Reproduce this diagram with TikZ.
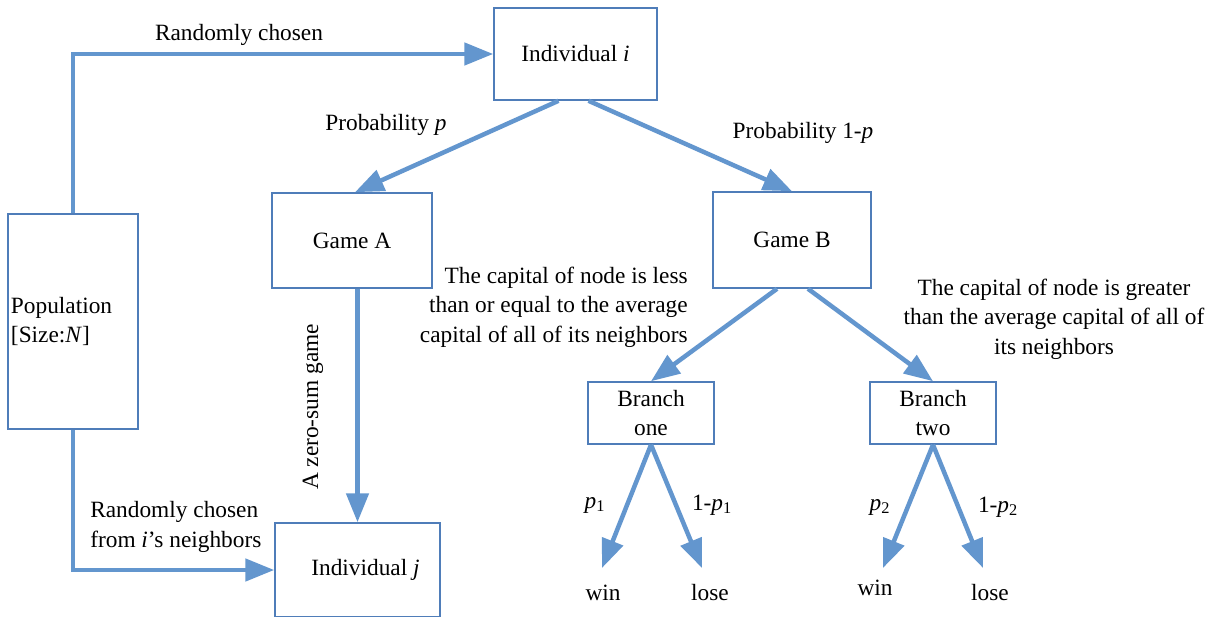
\documentclass[tikz,border=0pt]{standalone}
\usepackage{fontspec}
\setmainfont{Liberation Serif}
\usepackage{xcolor}
\definecolor{ARROWcolor}{HTML}{6396CE}
\definecolor{BOXcolor}{HTML}{4F7DB9}
\usepackage{tikz}
\usetikzlibrary{%
    calc,
    arrows.meta % 箭头
}

\begin{document}
\begin{tikzpicture}[x=0.025cm, y=-0.025cm,
        font=\fontsize{16.6pt}{21pt}\selectfont,
        box/.style={draw=BOXcolor, line width=1.1pt, inner sep=1pt},
        flow/.style={draw=ARROWcolor, line width=3.2pt, -{Triangle[length=0.72cm, width=0.55cm]}}]
    \useasboundingbox (0, 0) rectangle (1209, 617);
    \clip (0, 0) rectangle (1209, 617);

    % 方框
    \node (indi) [box, minimum width=4.075cm, minimum height=2.3cm] at (575.5, 54) {Individual \textit{i}\hspace{0.275cm}};
    \node (pop) [box, minimum width=3.25cm, minimum height=5.375cm, text width=3.1cm, align=left] at (73, 321.5) {Population\\\relax [Size:\textit{N}]};
    \node (gameA) [box, minimum width=4cm, minimum height=2.375cm] at (352, 240.5) {Game A};
    \node (indj) [box, minimum width=4.125cm, minimum height=2.35cm] at (357.5, 570) {\hspace{0.4cm}Individual \textit{j}};
    \node (gameB) [box, minimum width=3.95cm, minimum height=2.4cm] at (792, 240) {Game B};
    \node (branchone) [box, minimum width=3.15cm, minimum height=1.55cm, align=center] at (651, 413) {Branch\\one};
    \node (branchtwo) [box, minimum width=3.15cm, minimum height=1.55cm, align=center] at (933, 413) {Branch\\two};

    % 结果
    \node (winone) at (603, 593) {win};
    \node (loseone) at (710, 593) {lose};
    \node (wintwo) at (875, 588) {win};
    \node (losetwo) at (990, 593) {lose};
    \coordinate (winonetip) at (602, 568);
    \coordinate (loseonetip) at (702, 568);
    \coordinate (wintwotip) at (883, 568);
    \coordinate (losetwotip) at (983, 568);

    % 箭头
    \draw [flow] (pop.north) |- (indi.west);
    \draw [flow] (pop.south) |- (indj.west);
    \draw [flow] ($ (indi.south) + (-17, 0) $) -- ($ (gameA.north) + (3, 0) $);
    \draw [flow] ($ (indi.south) + (13, 0) $) -- (gameB.north);
    \draw [flow] (gameA.south -| indj.north) -- (indj.north);
    \draw [flow] ($ (gameB.south) + (-15, 0) $) -- (branchone.north);
    \draw [flow] ($ (gameB.south) + (16, 0) $) -- (branchtwo.north);
    \draw [flow] (branchone.south) -- (winonetip);
    \draw [flow] (branchone.south) -- (loseonetip);
    \draw [flow] (branchtwo.south) -- (wintwotip);
    \draw [flow] (branchtwo.south) -- (losetwotip);

    % 标注
    \node (chosen) at (239, 35) {Randomly chosen};
    \node (probp) at (386, 125) {Probability \textit{p}};
    \node (probq) at (803, 133) {Probability 1-\textit{p}};
    \node (zerosum) [rotate=90] at (313, 407) {A zero-sum game};
    \node (neighbors) [anchor=west, align=left, inner sep=0pt] at (90, 527) {Randomly chosen\\from \textit{i}'s neighbors};
    \node (lesscond) [anchor=east, align=right, inner sep=0pt] at (688, 307) {The capital of node is less\\than or equal to the average\\capital of all of its neighbors};
    \node (greatcond) [align=center, inner sep=0pt] at (1054, 319) {The capital of node is greater\\than the average capital of all of\\its neighbors};
    \node (pone) at (595, 505) {\textit{p}\textsubscript{1}};
    \node (qone) at (712, 505) {1-\textit{p}\textsubscript{1}};
    \node (ptwo) at (880, 507) {\textit{p}\textsubscript{2}};
    \node (qtwo) at (998, 507) {1-\textit{p}\textsubscript{2}};
\end{tikzpicture}
\end{document}
